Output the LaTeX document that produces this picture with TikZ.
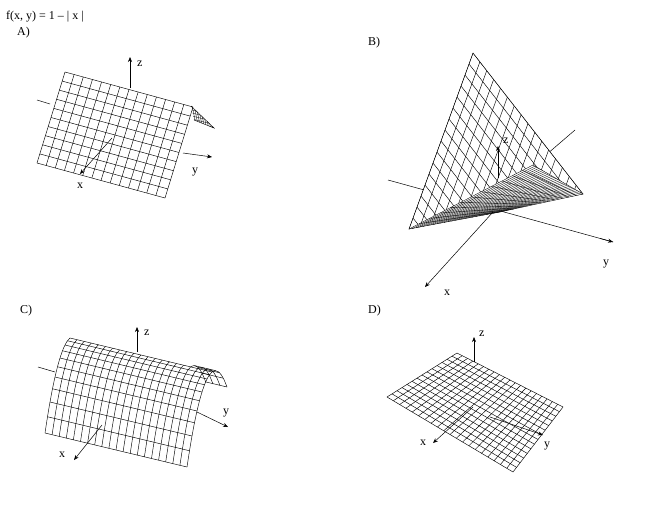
\documentclass[tikz,border=0pt]{standalone}
\usepackage{fontspec}
\setmainfont{Liberation Serif}
\usetikzlibrary{calc,arrows.meta}
\tikzset{mesh/.style={line width=0.45pt},ax/.style={line width=0.5pt},arr/.style={ax,-{Stealth[length=5pt,width=4pt]}},lab/.style={font=\fontsize{12}{13}\selectfont,inner sep=0pt}}
\newcommand\bgrid[6]{%
 \foreach \i in {0,...,#5}{\pgfmathsetmacro\tt{\i/#5}\draw[mesh] ($(#1)!\tt!(#2)$) -- ($(#4)!\tt!(#3)$);}
 \foreach \j in {0,...,#6}{\pgfmathsetmacro\ss{\j/#6}\draw[mesh] ($(#1)!\ss!(#4)$) -- ($(#2)!\ss!(#3)$);}}
\begin{document}
\begin{tikzpicture}[x=1pt,y=-1pt]
\useasboundingbox (0,0) rectangle (650,530);
\node[lab,anchor=base west] (title) at (6,19) {f(x, y) = 1 -- | x |};
\node[lab,anchor=base west] (la) at (17,35) {A)};
\node[lab,anchor=base west] (lb) at (368,45) {B)};
\node[lab,anchor=base west] (lc) at (20,313) {C)};
\node[lab,anchor=base west] (ld) at (368,313) {D)};
% ---------- A
\draw[ax] (37,100) -- (50,104);
\coordinate (a0) at (65,72); \coordinate (a1) at (193,107);
\coordinate (a2) at (165,198); \coordinate (a3) at (37,163);
\fill[white] (a0)--(a1)--(a2)--(a3)--cycle;
\bgrid{a0}{a1}{a2}{a3}{14}{10}
\begin{scope}
\clip (191,106) -- (214,128) -- (194,120) -- cycle;
\foreach \k in {0,...,14}{\draw[line width=0.35pt] (185+\k*2,100) -- ++(6,30);}
\foreach \k in {0,...,8}{\draw[line width=0.35pt] (180,104+\k*3) -- ++(40,10);}
\end{scope}
\draw[mesh] (191,106) -- (214,128) -- (194,120);
\coordinate (ao) at (130,88);
\draw[arr] (ao) -- (130,57);
\node[lab,anchor=west] (az) at (137,64) {z};
\draw[arr] (183,153) -- (212,157);
\node[lab] (ay) at (195,172) {y};
\draw[arr] (112,138) -- (80,174);
\node[lab] (axl) at (80,186) {x};
% ---------- B
\draw[ax] (388,180) -- (613,242);
\draw[ax] (497,197) -- (575,130);
\coordinate (bA) at (473,53); \coordinate (bL) at (409,229);
\coordinate (bR) at (583,194);
\fill[white] (bA)--(bR)--(bL)--cycle;
\begin{scope}
\clip (bA)--(bR)--(bL)--cycle;
\foreach \i in {0,...,32}{\pgfmathsetmacro\tt{\i/16}
 \draw[mesh] ($(bA)!\tt!(bR)$) -- ++($2*(bL)-2*(bA)$);
 \draw[mesh] ($(bA)!\tt!(bL)$) -- ++($2*(bR)-2*(bA)$);}
\end{scope}
\draw[mesh] (bA)--(bR)--(bL)--cycle;
\coordinate (bP) at (500,212); \coordinate (bT) at (533,165);
\fill[white] (bL)--(bP)--(bR)--(bT)--cycle;
\foreach \i in {0,...,12}{\pgfmathsetmacro\tt{\i/12}\draw[mesh,line width=0.35pt] ($(bL)!\tt!(bT)$) -- ($(bP)!\tt!(bR)$);}
\foreach \j in {0,...,26}{\pgfmathsetmacro\ss{\j/26}\draw[mesh,line width=0.35pt] ($(bL)!\ss!(bP)$) -- ($(bT)!\ss!(bR)$);}
\coordinate (bo) at (498,178);
\draw[arr] (bo) -- (498,146);
\node[lab,anchor=west] (bz) at (503,141) {z};
\draw[arr] (493,212) -- (425,287);
\node[lab] (bx) at (447,293) {x};
\draw[arr] (600,238.4) -- (613,242);
\node[lab] (by) at (606,264) {y};
% ---------- C
\draw[ax] (38,367) -- (55,372);
\fill[white] plot[smooth,domain=0:1,samples=9] ({70-25*\x},{338+20*\x+75*\x*\x}) -- plot[smooth,domain=1:0,samples=9] ({212-25*\x},{372+20*\x+75*\x*\x}) -- cycle;
\foreach \j in {0,...,20}{\pgfmathsetmacro\bx{70+142*\j/20}\pgfmathsetmacro\by{338+34*\j/20}
 \draw[mesh] plot[smooth,domain=0:1,samples=9] ({\bx-25*\x},{\by+20*\x+75*\x*\x});}
\foreach \i in {0,...,10}{\pgfmathsetmacro\t{\i/10}
 \draw[mesh] ({70-25*\t},{338+20*\t+75*\t*\t}) -- ({212-25*\t},{372+20*\t+75*\t*\t});}
\foreach \j in {17,...,20}{\pgfmathsetmacro\bx{70+142*\j/20}\pgfmathsetmacro\by{338+34*\j/20}
 \draw[mesh] plot[smooth,domain=0:-0.6,samples=6] ({\bx-25*\x},{\by+20*\x+75*\x*\x});}
\foreach \t in {-0.15,-0.3,-0.45,-0.6}{
 \draw[mesh] ({70+142*17/20-25*\t},{338+34*17/20+20*\t+75*\t*\t}) -- ({212-25*\t},{372+20*\t+75*\t*\t});}
\coordinate (co) at (137,352);
\draw[arr] (co) -- (137,327);
\node[lab,anchor=west] (cz) at (144,333) {z};
\draw[arr] (197,412) -- (228,427);
\node[lab] (cy) at (226,413) {y};
\draw[arr] (102,425) -- (74,460);
\node[lab] (cxl) at (62,455) {x};
% ---------- D
\coordinate (d0) at (457,353); \coordinate (d1) at (563,407);
\coordinate (d2) at (513,472); \coordinate (d3) at (387,397);
\fill[white] (d0)--(d1)--(d2)--(d3)--cycle;
\bgrid{d0}{d1}{d2}{d3}{20}{14}
\coordinate (do) at (474,362);
\draw[arr] (do) -- (474,337);
\node[lab,anchor=west] (dz) at (479,334) {z};
\draw[arr] (473,407) -- (433,443);
\node[lab] (dxl) at (423,443) {x};
\draw[arr] (490,417) -- (543,435);
\node[lab] (dyl) at (547,446) {y};
\end{tikzpicture}
\end{document}
